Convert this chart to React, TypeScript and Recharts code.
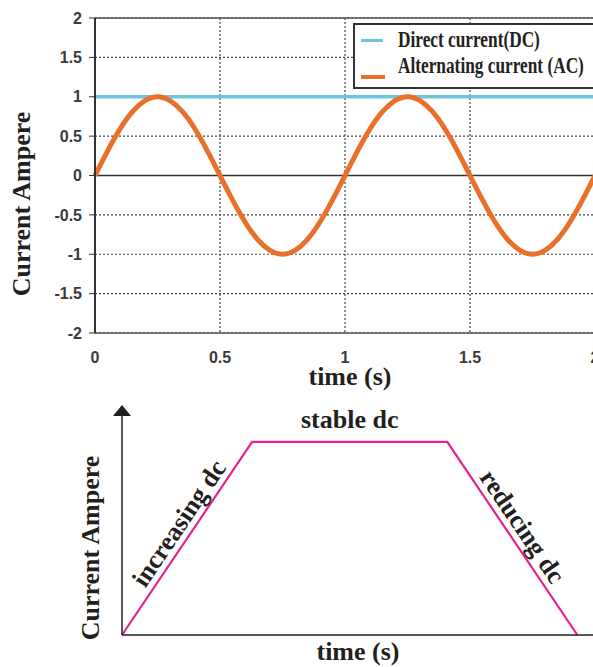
import React from 'react';
import {
  LineChart,
  Line,
  XAxis,
  YAxis,
  CartesianGrid,
  ReferenceLine,
  ReferenceDot,
  Legend,
  Label,
} from 'recharts';

// top chart: DC vs AC over two seconds
const acTime = [
  0, 0.05, 0.1, 0.15, 0.2, 0.25, 0.3, 0.35, 0.4, 0.45, 0.5, 0.55, 0.6, 0.65, 0.7, 0.75, 0.8, 0.85, 0.9, 0.95, 1,
  1.05, 1.1, 1.15, 1.2, 1.25, 1.3, 1.35, 1.4, 1.45, 1.5, 1.55, 1.6, 1.65, 1.7, 1.75, 1.8, 1.85, 1.9, 1.95, 2,
];
const acValues = [
  0, 0.31, 0.59, 0.81, 0.95, 1, 0.95, 0.81, 0.59, 0.31, 0, -0.31, -0.59, -0.81, -0.95, -1, -0.95, -0.81, -0.59, -0.31, 0,
  0.31, 0.59, 0.81, 0.95, 1, 0.95, 0.81, 0.59, 0.31, 0, -0.31, -0.59, -0.81, -0.95, -1, -0.95, -0.81, -0.59, -0.31, 0,
];
const dcTime = [0, 2];
const dcValues = [1, 1];
const timeTicks = [0, 0.5, 1, 1.5, 2];
const currentTicks = [-2, -1.5, -1, -0.5, 0, 0.5, 1, 1.5, 2];

// bottom chart: dc profile
const profileTime = [0, 1, 2.5, 3.5];
const profileCurrent = [0, 1, 1, 0];

const DC_COLOR = '#6ec6de';
const AC_COLOR = '#e8702a';
const PROFILE_COLOR = '#e6228f';

const serif = {
  fontFamily: '"Liberation Serif", "Times New Roman", serif',
  fontWeight: 700,
  fill: '#231f20',
};

const acData = acTime.map((t, i) => ({ t, ac: acValues[i] }));
const dcData = dcTime.map((t, i) => ({ t, dc: dcValues[i] }));
const profileData = profileTime.map((t, i) => ({ t, current: profileCurrent[i] }));

const renderLegend = () => (
  <div
    style={{
      position: 'relative',
      width: 260,
      height: 66,
      boxSizing: 'border-box',
      border: '2px solid #333',
      background: '#fff',
      fontFamily: '"Liberation Serif", "Times New Roman", serif',
      fontWeight: 700,
      fontSize: 24,
      lineHeight: 1,
      color: '#222',
    }}
  >
    <div style={{ position: 'absolute', left: 6, top: 14, width: 22, height: 3, background: DC_COLOR }} />
    <div style={{ position: 'absolute', left: 43, top: 2, whiteSpace: 'nowrap', transform: 'scaleX(0.72)', transformOrigin: 'left' }}>
      Direct current(DC)
    </div>
    <div style={{ position: 'absolute', left: 6, top: 50, width: 24, height: 4, background: AC_COLOR }} />
    <div style={{ position: 'absolute', left: 43, top: 28, whiteSpace: 'nowrap', transform: 'scaleX(0.72)', transformOrigin: 'left' }}>
      Alternating current (AC)
    </div>
  </div>
);

const rotatedText = (text: string, x: number, y: number, angle: number) => (
  <text
    x={x}
    y={y}
    transform={`rotate(${angle} ${x} ${y})`}
    textAnchor="middle"
    style={{ ...serif, fontSize: 26 }}
  >
    {text}
  </text>
);

// text placed relative to a reference dot
const dotText = (text: string, dx: number, dy: number, angle: number) => (props: any) => {
  const x = props.cx + dx;
  const y = props.cy + dy;
  return (
    <text
      x={x}
      y={y}
      transform={`rotate(${angle} ${x} ${y})`}
      textAnchor="middle"
      dominantBaseline="central"
      style={{ ...serif, fontSize: 26 }}
    >
      {text}
    </text>
  );
};

const arrowHead = (props: any) => {
  const { cx, cy } = props;
  return <path d={`M${cx},${cy - 8} L${cx + 9},${cy + 3} L${cx - 9},${cy + 3} Z`} fill="#231f20" />;
};

export default function App() {
  const tickStyle = { fontFamily: '"Liberation Sans", Arial, sans-serif', fontWeight: 700, fontSize: 16, fill: '#3a3a3a' };
  return (
    <div style={{ position: 'absolute', left: 0, top: 0, width: 593, height: 667, overflow: 'hidden', background: '#fff' }}>
      <div style={{ position: 'absolute', left: 0, top: 0 }}>
        <LineChart width={600} height={400} margin={{ top: 18, right: 5, bottom: 0, left: 35 }}>
          <CartesianGrid stroke="#444" strokeDasharray="2 2" strokeWidth={1.2} />
          <XAxis
            type="number"
            dataKey="t"
            domain={[0, 2]}
            ticks={timeTicks}
            allowDuplicatedCategory={false}
            height={67}
            axisLine={{ stroke: '#555', strokeWidth: 1.5 }}
            tickLine={false}
            tickSize={6}
            tickMargin={13}
            tick={tickStyle}
            interval={0}
          >
            <Label content={() => rotatedText('time (s)', 350, 385, 0)} />
          </XAxis>
          <YAxis
            type="number"
            domain={[-2, 2]}
            ticks={currentTicks}
            width={60}
            axisLine={{ stroke: '#333', strokeWidth: 2 }}
            tickLine={{ stroke: '#333' }}
            tickSize={6}
            tickMargin={7}
            tick={tickStyle}
            interval={0}
          >
            <Label content={() => rotatedText('Current Ampere', 30, 204, -90)} />
          </YAxis>
          <ReferenceLine y={0} stroke="#333" strokeWidth={1.5} />
          <ReferenceLine y={2} stroke="#555" strokeWidth={1.5} />
          <Line
            data={dcData}
            dataKey="dc"
            type="linear"
            stroke={DC_COLOR}
            strokeWidth={3.5}
            dot={false}
            isAnimationActive={false}
          />
          <Line
            data={acData}
            dataKey="ac"
            type="natural"
            stroke={AC_COLOR}
            strokeWidth={5}
            dot={false}
            isAnimationActive={false}
          />
          <Legend
            content={renderLegend}
            layout="horizontal"
            verticalAlign="middle"
            align="center"
            wrapperStyle={{ position: 'absolute', top: 23, left: 353, width: 260 }}
          />
        </LineChart>
      </div>
      <div style={{ position: 'absolute', left: 0, top: 395 }}>
        <LineChart width={593} height={272} data={profileData} margin={{ top: 18, right: 0, bottom: 32, left: 122 }}>
          <XAxis type="number" dataKey="t" domain={[0, 3.62]} hide />
          <YAxis type="number" domain={[0, 1.15]} hide />
          <Line
            dataKey="current"
            type="linear"
            stroke={PROFILE_COLOR}
            strokeWidth={2.2}
            dot={false}
            isAnimationActive={false}
          />
          <ReferenceLine y={0} stroke="#231f20" strokeWidth={1.5}>
            <Label content={() => rotatedText('time (s)', 358, 265, 0)} />
          </ReferenceLine>
          <ReferenceLine x={0} stroke="#231f20" strokeWidth={1.5}>
            <Label content={() => rotatedText('Current Ampere', 99, 153, -90)} />
          </ReferenceLine>
          <ReferenceDot x={0} y={1.15} r={0} shape={arrowHead} />
          <ReferenceDot x={1.75} y={1} r={0} shape={dotText('stable dc', 0, -22, 0)} />
          <ReferenceDot x={0.5} y={0.5} r={0} shape={dotText('increasing dc', -8, -15, -56)} />
          <ReferenceDot x={3} y={0.5} r={0} shape={dotText('reducing dc', 10, -12, 56)} />
        </LineChart>
      </div>
    </div>
  );
}
